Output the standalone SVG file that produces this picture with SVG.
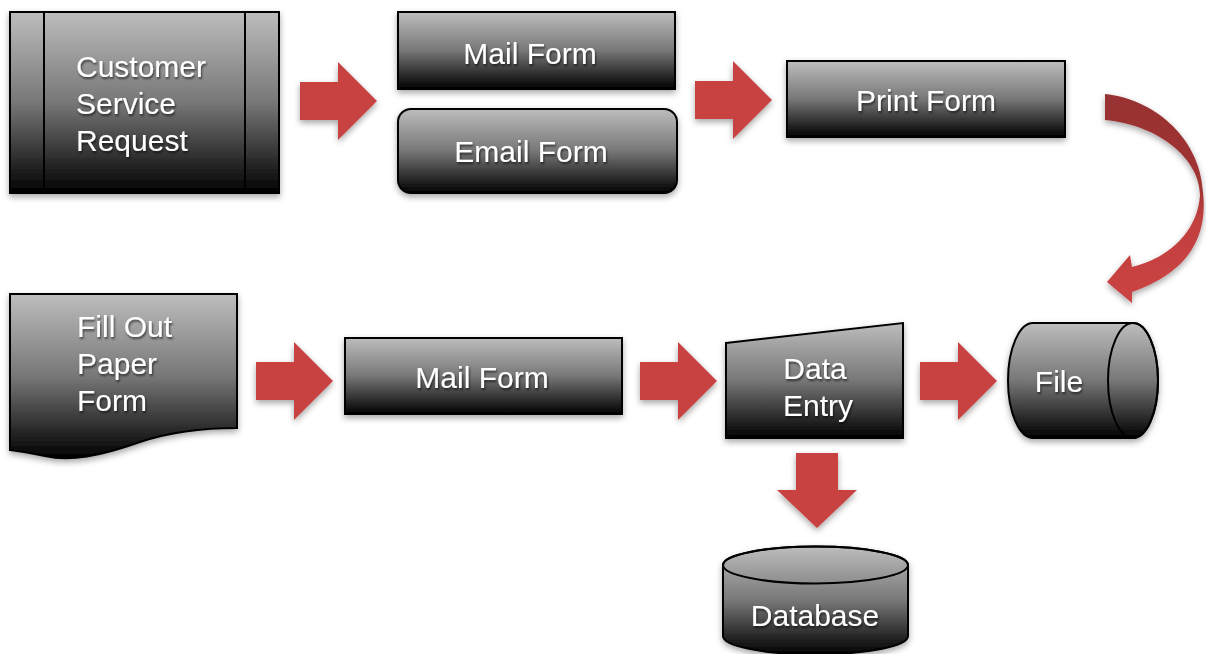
<svg xmlns="http://www.w3.org/2000/svg" width="1206" height="654" viewBox="0 0 1206 654">
  <defs>
    <linearGradient id="shade" x1="0" y1="0" x2="0" y2="1">
      <stop offset="0" stop-color="#bdbdbd"/>
      <stop offset="0.5" stop-color="#777"/>
      <stop offset="1" stop-color="#000"/>
    </linearGradient>
    <linearGradient id="curveRed" gradientUnits="userSpaceOnUse" x1="0" y1="94" x2="0" y2="303">
      <stop offset="0" stop-color="#983232"/>
      <stop offset="0.45" stop-color="#a13434"/>
      <stop offset="0.6" stop-color="#c24040"/>
      <stop offset="1" stop-color="#cb4343"/>
    </linearGradient>
    <filter id="boxShadow" x="-10%" y="-10%" width="120%" height="130%">
      <feDropShadow dx="0" dy="3" stdDeviation="3" flood-color="#000" flood-opacity="0.35"/>
    </filter>
    <filter id="textShadow" x="-10%" y="-20%" width="120%" height="150%">
      <feDropShadow dx="1" dy="2" stdDeviation="1.2" flood-color="#000" flood-opacity="0.6"/>
    </filter>
    <path id="arrowRight" d="M0,-19 H38 V-39 L77,0 L38,39 V19 H0 Z"/>
  </defs>
  <style>
    .shape { fill: url(#shade); stroke: #000; stroke-width: 2; filter: url(#boxShadow); }
    .line { fill: none; stroke: #000; stroke-width: 2; }
    .label { font-family: "Liberation Sans", Arial, sans-serif; font-size: 30px; fill: #fff; filter: url(#textShadow); }
    .mid { text-anchor: middle; }
    .flow { fill: #c94343; filter: url(#boxShadow); }
    .curve { fill: url(#curveRed); filter: url(#boxShadow); }
  </style>
  <rect width="1206" height="654" fill="#fff"/>

  <!-- connectors -->
  <g id="connectors">
    <use href="#arrowRight" class="flow" transform="translate(300,101)"/>
    <use href="#arrowRight" class="flow" transform="translate(695,100)"/>
    <path class="curve" d="M1105,94 C1150,98 1200,135 1203,192 C1208,235 1190,272 1132,292 L1132,303 L1107,282 L1130,255 L1132,267 C1170,258 1198,230 1200,195 C1200,160 1160,125 1105,120 Z"/>
    <use href="#arrowRight" class="flow" transform="translate(256,381)"/>
    <use href="#arrowRight" class="flow" transform="translate(640,381)"/>
    <use href="#arrowRight" class="flow" transform="translate(920,381)"/>
    <path class="flow" d="M796,453 H838 V490 H857 L817,528 L777,490 H796 Z"/>
  </g>

  <!-- Customer Service Request (predefined process) -->
  <g id="customer-service-request">
    <rect class="shape" x="10" y="12" width="269" height="181"/>
    <line class="line" x1="44" y1="12" x2="44" y2="193"/>
    <line class="line" x1="245" y1="12" x2="245" y2="193"/>
    <text class="label" x="76" y="77">Customer</text>
    <text class="label" x="76" y="114">Service</text>
    <text class="label" x="76" y="151">Request</text>
  </g>

  <!-- Mail Form (top) -->
  <g id="mail-form-top">
    <rect class="shape" x="398" y="12" width="277" height="77"/>
    <text class="label mid" x="530" y="64">Mail Form</text>
  </g>

  <!-- Email Form -->
  <g id="email-form">
    <rect class="shape" x="398" y="109" width="279" height="84" rx="13" ry="13"/>
    <text class="label mid" x="531" y="162">Email Form</text>
  </g>

  <!-- Print Form -->
  <g id="print-form">
    <rect class="shape" x="787" y="61" width="278" height="76"/>
    <text class="label mid" x="926" y="111">Print Form</text>
  </g>

  <!-- Fill Out Paper Form (document) -->
  <g id="fill-out-paper-form">
    <path class="shape" d="M10,294 H237 V428 C200,428 170,432 140,442 C100,456 70,462 45,456 C30,453 18,451 10,450 Z"/>
    <text class="label" x="77" y="337">Fill Out</text>
    <text class="label" x="77" y="374">Paper</text>
    <text class="label" x="77" y="411">Form</text>
  </g>

  <!-- Mail Form (bottom) -->
  <g id="mail-form-bottom">
    <rect class="shape" x="345" y="338" width="277" height="76"/>
    <text class="label mid" x="482" y="388">Mail Form</text>
  </g>

  <!-- Data Entry (manual input) -->
  <g id="data-entry">
    <path class="shape" d="M726,343 L903,323 V438 H726 Z"/>
    <text class="label mid" x="815" y="379">Data</text>
    <text class="label mid" x="818" y="416">Entry</text>
  </g>

  <!-- File (horizontal cylinder) -->
  <g id="file">
    <path class="shape" d="M1033,323 H1133 A25,57.5 0 0 1 1133,438 H1033 A25,57.5 0 0 1 1033,323 Z"/>
    <ellipse class="line" cx="1133" cy="380.5" rx="25" ry="57.5"/>
    <text class="label mid" x="1059" y="392">File</text>
  </g>

  <!-- Database (vertical cylinder) -->
  <g id="database">
    <path class="shape" d="M723,565 A92.5,18.5 0 0 1 908,565 V636 A92.5,18.5 0 0 1 723,636 Z"/>
    <ellipse class="line" cx="815.5" cy="565" rx="92.5" ry="18.5"/>
    <text class="label mid" x="815" y="626">Database</text>
  </g>
</svg>
